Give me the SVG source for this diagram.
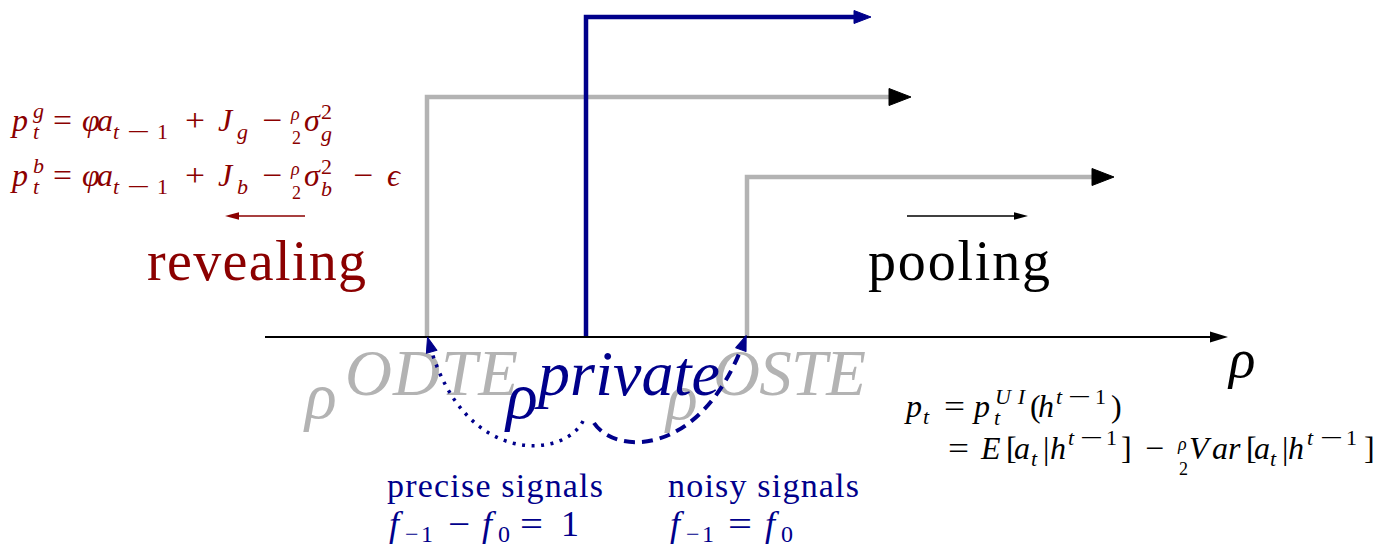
<svg xmlns="http://www.w3.org/2000/svg" width="1381" height="545" viewBox="0 0 1381 545">
<style>
.m{font-family:"Liberation Serif","DejaVu Serif",serif;font-style:italic}
.n{font-family:"Liberation Serif","DejaVu Serif",serif;font-style:normal}
.red{fill:#8b0000}
.blue{fill:#00008b}
.gray{fill:#b3b3b3}
.blk{fill:#000}
.s1{font-size:32px}
.s2{font-size:22px}
.s3{font-size:18px}
.b1{font-size:36px}
.b2{font-size:24px}
.gl{fill:none;stroke:#b3b3b3;stroke-width:4.5}
.bl{fill:none;stroke:#00008b;stroke-width:4.5}
</style>
<defs>
<marker id="hg" markerUnits="userSpaceOnUse" orient="auto" overflow="visible" markerWidth="30" markerHeight="30"><path d="M-11 -8.5 L11 0 L-11 8.5 Z" fill="#000" stroke="#000" stroke-width="1" stroke-linejoin="round"/></marker>
<marker id="hb" markerUnits="userSpaceOnUse" orient="auto" overflow="visible" markerWidth="30" markerHeight="30"><path d="M-7 -6.5 L10 0 L-7 6.5 Z" fill="#00008b" stroke="#00008b" stroke-width="1" stroke-linejoin="round"/></marker>
<marker id="hc" markerUnits="userSpaceOnUse" orient="auto" overflow="visible" markerWidth="30" markerHeight="30"><path d="M-6 -5.5 L9 0 L-6 5.5 Z" fill="#00008b" stroke="#00008b" stroke-width="1" stroke-linejoin="round"/></marker>
<marker id="ha" markerUnits="userSpaceOnUse" orient="auto" overflow="visible" markerWidth="30" markerHeight="30"><path d="M-9 -5.5 L9 0 L-9 5.5 Z" fill="#000"/></marker>
<marker id="hk" markerUnits="userSpaceOnUse" orient="auto" overflow="visible" markerWidth="30" markerHeight="30"><path d="M-6 -3.8 L8 0 L-6 3.8 Z" fill="#000"/></marker>
<marker id="hr" markerUnits="userSpaceOnUse" orient="auto" overflow="visible" markerWidth="30" markerHeight="30"><path d="M-6 -3.8 L8 0 L-6 3.8 Z" fill="#8b0000"/></marker>
</defs>

<g id="eq-good" class="red">
<text class="m s1" x="12" y="131">p</text>
<text class="m s2" x="33" y="118">g</text>
<text class="m s2" x="33" y="139">t</text>
<text class="n s1" x="53" y="131" textLength="19" lengthAdjust="spacingAndGlyphs">=</text>
<text class="m s1" x="82" y="131" textLength="31">φa</text>
<text class="m s2" x="113" y="139">t</text>
<text class="n s2" x="127" y="139" textLength="23" lengthAdjust="spacingAndGlyphs">−</text>
<text class="n s2" x="157" y="139">1</text>
<text class="n s1" x="185" y="131" textLength="20" lengthAdjust="spacingAndGlyphs">+</text>
<text class="m s1" x="218" y="131">J</text>
<text class="m s2" x="237" y="139">g</text>
<text class="n s1" x="262" y="131" textLength="20" lengthAdjust="spacingAndGlyphs">−</text>
<text class="m s3" x="291" y="120">ρ</text>
<text class="n s3" x="292" y="144">2</text>
<text class="m s1" x="304" y="131">σ</text>
<text class="n s2" x="321" y="119">2</text>
<text class="m s2" x="321" y="141">g</text>
</g>

<g id="eq-bad" class="red">
<text class="m s1" x="12" y="186">p</text>
<text class="m s2" x="33" y="173">b</text>
<text class="m s2" x="33" y="194">t</text>
<text class="n s1" x="53" y="186" textLength="19" lengthAdjust="spacingAndGlyphs">=</text>
<text class="m s1" x="82" y="186" textLength="31">φa</text>
<text class="m s2" x="113" y="194">t</text>
<text class="n s2" x="127" y="194" textLength="23" lengthAdjust="spacingAndGlyphs">−</text>
<text class="n s2" x="157" y="194">1</text>
<text class="n s1" x="185" y="186" textLength="20" lengthAdjust="spacingAndGlyphs">+</text>
<text class="m s1" x="218" y="186">J</text>
<text class="m s2" x="237" y="194">b</text>
<text class="n s1" x="262" y="186" textLength="20" lengthAdjust="spacingAndGlyphs">−</text>
<text class="m s3" x="291" y="175">ρ</text>
<text class="n s3" x="292" y="199">2</text>
<text class="m s1" x="304" y="186">σ</text>
<text class="n s2" x="321" y="174">2</text>
<text class="m s2" x="321" y="196">b</text>
<text class="n s1" x="353" y="186" textLength="20" lengthAdjust="spacingAndGlyphs">−</text>
<text class="m s1" x="387" y="186">ϵ</text>
</g>

<g id="revealing"><text class="n red" x="147" y="280" font-size="56" textLength="219">revealing</text></g>
<g id="pooling"><text class="n blk" x="868" y="280" font-size="56" textLength="182">pooling</text></g>

<g id="axis-label"><text class="m blk" x="1229" y="377" font-size="55">ρ</text></g>

<g id="rho-odte" class="gray">
<text class="m" x="305" y="418" font-size="66">ρ</text>
<text class="m" x="345" y="395" font-size="65" textLength="173">ODTE</text>
</g>
<g id="rho-oste" class="gray">
<text class="m" x="666" y="419" font-size="66">ρ</text>
<text class="m" x="713" y="395" font-size="65" textLength="153">OSTE</text>
</g>
<g id="rho-private" class="blue">
<text class="m" x="506" y="418" font-size="66">ρ</text>
<text class="m" x="538" y="395" font-size="64" textLength="182">private</text>
</g>

<g id="eq-price" class="blk">
<text class="m s1" x="906" y="417">p</text>
<text class="m s2" x="923" y="424">t</text>
<text class="n s1" x="944" y="417" textLength="21" lengthAdjust="spacingAndGlyphs">=</text>
<text class="m s1" x="974" y="417">p</text>
<text class="m s2" x="995" y="404" textLength="30">UI</text>
<text class="m s2" x="994" y="425">t</text>
<text class="n s1" x="1030" y="417">(</text>
<text class="m s1" x="1038" y="417">h</text>
<text class="m s2" x="1056" y="404">t</text>
<text class="n s2" x="1068" y="404" textLength="23" lengthAdjust="spacingAndGlyphs">−</text>
<text class="n s2" x="1095" y="404">1</text>
<text class="n s1" x="1111" y="417">)</text>

<text class="n s1" x="948" y="459" textLength="21" lengthAdjust="spacingAndGlyphs">=</text>
<text class="m s1" x="981" y="459">E</text>
<text class="n s1" x="1006" y="459">[</text>
<text class="m s1" x="1014" y="459">a</text>
<text class="m s2" x="1031" y="466">t</text>
<text class="n s1" x="1043" y="459">|</text>
<text class="m s1" x="1050" y="459">h</text>
<text class="m s2" x="1068" y="445">t</text>
<text class="n s2" x="1080" y="445" textLength="23" lengthAdjust="spacingAndGlyphs">−</text>
<text class="n s2" x="1106" y="445">1</text>
<text class="n s1" x="1121" y="459">]</text>
<text class="n s1" x="1145" y="459" textLength="19" lengthAdjust="spacingAndGlyphs">−</text>
<text class="m s3" x="1178" y="450">ρ</text>
<text class="n s3" x="1179" y="475">2</text>
<text class="m s1" x="1189" y="459">V</text>
<text class="m s1" x="1212" y="459">ar</text>
<text class="n s1" x="1246" y="459">[</text>
<text class="m s1" x="1254" y="459">a</text>
<text class="m s2" x="1270" y="466">t</text>
<text class="n s1" x="1282" y="459">|</text>
<text class="m s1" x="1288" y="459">h</text>
<text class="m s2" x="1307" y="445">t</text>
<text class="n s2" x="1320" y="445" textLength="23" lengthAdjust="spacingAndGlyphs">−</text>
<text class="n s2" x="1346" y="445">1</text>
<text class="n s1" x="1364" y="459">]</text>
</g>

<g id="precise" class="blue">
<text class="n" x="387" y="497" font-size="34" textLength="216">precise signals</text>
<text class="m b1" x="389" y="536">f</text>
<text class="n b2" x="405" y="542" textLength="28">−1</text>
<text class="n b1" x="448" y="536" textLength="22" lengthAdjust="spacingAndGlyphs">−</text>
<text class="m b1" x="482" y="536">f</text>
<text class="n b2" x="498" y="542">0</text>
<text class="n b1" x="520" y="536" textLength="23" lengthAdjust="spacingAndGlyphs">=</text>
<text class="n b1" x="561" y="536">1</text>
</g>

<g id="noisy" class="blue">
<text class="n" x="668" y="497" font-size="34" textLength="191">noisy signals</text>
<text class="m b1" x="670" y="536">f</text>
<text class="n b2" x="686" y="542" textLength="28">−1</text>
<text class="n b1" x="728" y="536" textLength="24" lengthAdjust="spacingAndGlyphs">=</text>
<text class="m b1" x="765" y="536">f</text>
<text class="n b2" x="781" y="542">0</text>
</g>

<g id="connectors">
<path class="gl" d="M427 338 V97 H900" marker-end="url(#hg)"/>
<path class="gl" d="M747 338 V177 H1103" marker-end="url(#hg)"/>
<path class="bl" d="M586 338 V17 H861" marker-end="url(#hb)"/>
<path d="M265 337 H1219" fill="none" stroke="#000" stroke-width="2" marker-end="url(#ha)"/>
<path d="M305 216 H233" fill="none" stroke="#8b0000" stroke-width="1.3" marker-end="url(#hr)"/>
<path d="M907 216 H1020" fill="none" stroke="#000" stroke-width="1.3" marker-end="url(#hk)"/>
<path d="M583 421 C565 458 465 468 430 346" fill="none" stroke="#00008b" stroke-width="3.5" stroke-dasharray="3 6.5" marker-end="url(#hc)"/>
<path d="M594 423 C615 455 700 458 743 344" fill="none" stroke="#00008b" stroke-width="4" stroke-dasharray="11 7" marker-end="url(#hc)"/>
</g>
</svg>
